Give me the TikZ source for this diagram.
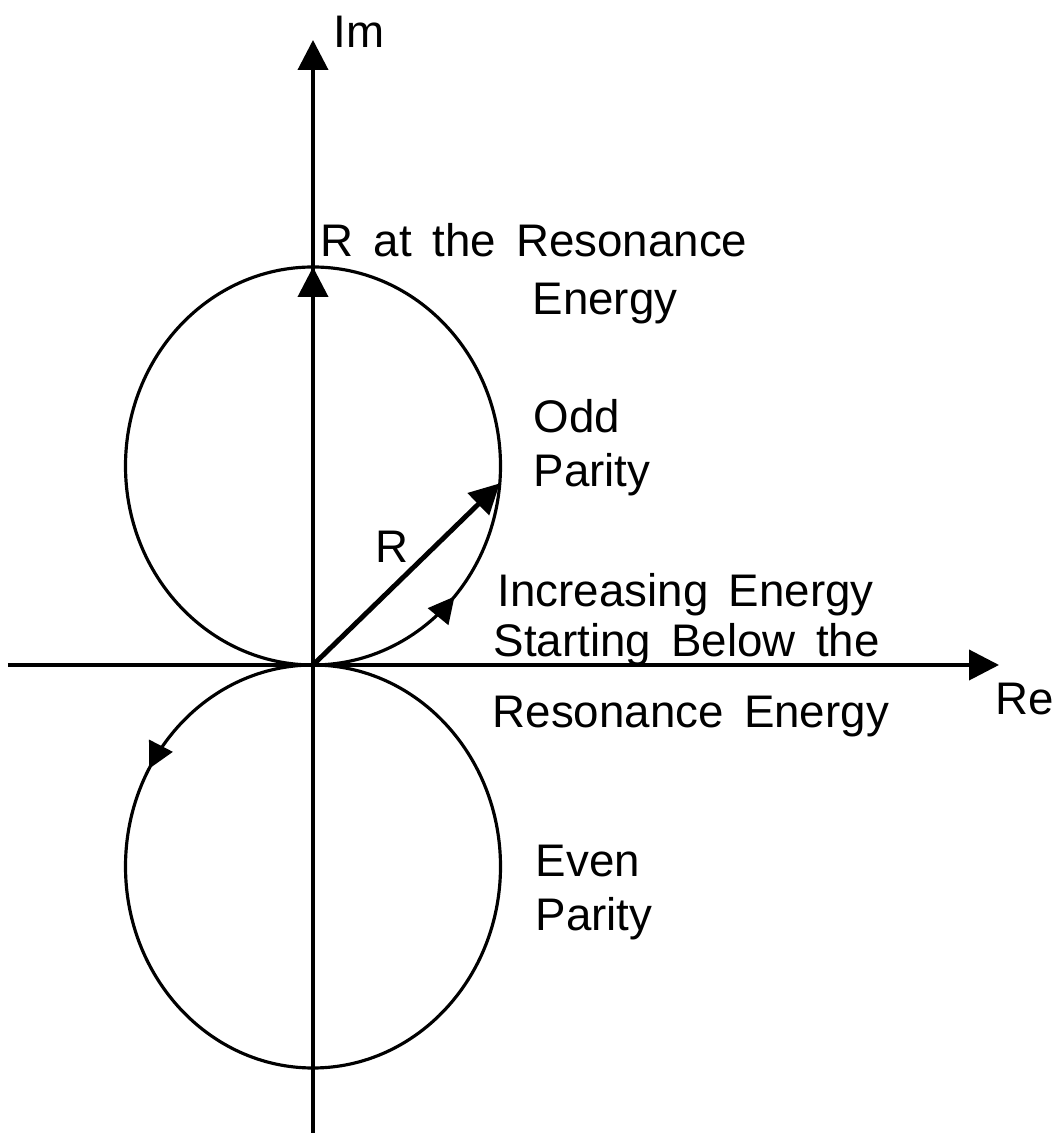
\documentclass[tikz,border=0pt]{standalone}
\usepackage{fontspec}
\setmainfont{Liberation Sans}[WordSpace=1.6]
\usetikzlibrary{arrows.meta,positioning,calc}

\begin{document}
\begin{tikzpicture}[
    % axes and the vertical R at resonance
    axis/.style={
        line width=1.1pt, -{Triangle[length=3mm, width=3mm]}
    },
    % the two parity circles
    loopline/.style={
        line width=0.9pt
    },
    % the R vector
    vec/.style={
        line width=1.4pt, -{Triangle[length=3mm, width=3mm]}
    },
    % sense of travel on the circles
    sense/.style={
        line width=0.9pt, -{Triangle[length=2.6mm, width=2.6mm]}
    },
    lbl/.style={
        font=\fontsize{13}{15}\selectfont, inner sep=0pt, anchor=base west
    }
]
\useasboundingbox (-3.13,-4.68) rectangle (7.42,6.65);

% === Points ===
\coordinate (O)       at (0,0);
\coordinate (Cup)     at (0,1.99);
\coordinate (Cdn)     at (0,-2.015);
\coordinate (Imbot)   at (0,-4.68);
\coordinate (Imtop)   at (0,6.25);
\coordinate (Releft)  at (-3.05,0);
\coordinate (Reright) at (6.86,0);
\coordinate (Rres)    at (0,3.98);
\coordinate (Rtip)    at ($(Cup)+(-5:1.875 and 1.99)$);
\coordinate (Sup)     at ($(Cup)+(-47:1.875 and 1.99)$);
\coordinate (Sdn)     at ($(Cdn)+(145:1.875 and 2.015)$);

% ============================================================
% === Axes
% ============================================================
\draw[axis] (Imbot) -- (Imtop);
\draw[axis] (Releft) -- (Reright);

% ============================================================
% === Circles: odd parity above, even parity below
% ============================================================
\draw[loopline] (Cup) ellipse [x radius=1.875, y radius=1.99];
\draw[loopline] (Cdn) ellipse [x radius=1.875, y radius=2.015];

% direction of increasing energy
\draw[sense] (Sup) arc[start angle=-47, end angle=-41, x radius=1.875, y radius=1.99];
\draw[sense] (Sdn) arc[start angle=145, end angle=151, x radius=1.875, y radius=2.015];

% ============================================================
% === R vectors
% ============================================================
\draw[vec] (O) -- (Rtip);
\draw[axis] (O) -- (Rres);

% ============================================================
% === Labels
% ============================================================
\node[lbl] (imlbl)   at (0.20,6.17)  {Im};
\node[lbl] (relbl)   at (6.82,-0.50) {Re};
\node[lbl] (rlbl)    at (0.62,1.02)  {R};
\node[lbl] (reslbl)  at (0.07,4.08)  {R at the Resonance};
\node[lbl] (reslbl2) at (2.19,3.50)  {Energy};
\node[lbl] (oddlbl)  at (2.20,2.32)  {Odd};
\node[lbl] (oddlbl2) at (2.20,1.78)  {Parity};
\node[lbl] (inclbl)  at (1.84,0.58)  {Increasing Energy};
\node[lbl] (inclbl2) at (1.80,0.08)  {Starting Below the};
\node[lbl] (inclbl3) at (1.79,-0.63) {Resonance Energy};
\node[lbl] (evenlbl) at (2.22,-2.12) {Even};
\node[lbl] (evenlbl2) at (2.22,-2.65) {Parity};

\end{tikzpicture}
\end{document}
